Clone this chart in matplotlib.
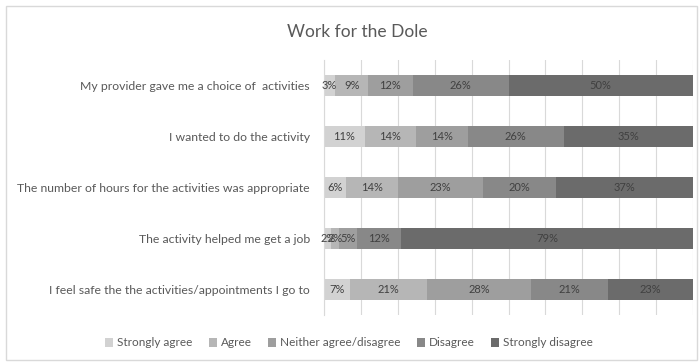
import matplotlib
matplotlib.use("Agg")
import matplotlib.pyplot as plt
from matplotlib.patches import Rectangle
import numpy as np

plt.rcParams["font.family"] = ["Lato", "DejaVu Sans"]

title = "Work for the Dole"
questions = [
    "My provider gave me a choice of  activities",
    "I wanted to do the activity",
    "The number of hours for the activities was appropriate",
    "The activity helped me get a job",
    "I feel safe the the activities/appointments I go to",
]
responses = ["Strongly agree", "Agree", "Neither agree/disagree", "Disagree", "Strongly disagree"]
strongly_agree = [3, 11, 6, 2, 7]
agree = [9, 14, 14, 2, 21]
neither = [12, 14, 23, 5, 28]
disagree = [26, 26, 20, 12, 21]
strongly_disagree = [50, 35, 37, 79, 23]

series = [strongly_agree, agree, neither, disagree, strongly_disagree]
colors = ["#d2d2d2", "#b6b6b6", "#9e9e9e", "#888888", "#6b6b6b"]
text_gray = "#595959"

fig = plt.figure(figsize=(6.99, 3.63), dpi=100)
fig.patches.append(Rectangle((6 / 699, 3 / 363), 691 / 699, 354 / 363, transform=fig.transFigure,
                             fill=False, edgecolor="#d9d9d9", linewidth=1.0))
ax = fig.add_axes([324 / 699, 48 / 363, 369 / 699, 255 / 363])

y = np.arange(len(questions))
left = np.zeros(len(questions))
for vals, col, name in zip(series, colors, responses):
    vals = np.array(vals, dtype=float)
    bars = ax.barh(y, vals, left=left, height=0.4, color=col, label=name, zorder=2)
    for b, v in zip(bars, vals):
        ax.text(b.get_x() + b.get_width() / 2, b.get_y() + b.get_height() / 2, f"{int(v)}%",
                ha="center", va="center", fontsize=8, color="#404040", zorder=3)
    left += vals

ax.set_xlim(0, 100)
ax.set_ylim(len(questions) - 0.5, -0.5)
ax.set_xticks(np.arange(0, 101, 10))
ax.set_xticklabels([])
ax.tick_params(axis="x", length=0)
ax.tick_params(axis="y", length=0, pad=10, labelsize=8.8, labelcolor=text_gray)
ax.set_yticks(y)
ax.set_yticklabels(questions)
ax.grid(axis="x", color="#d9d9d9", linewidth=0.8, zorder=0)
for s in ["top", "right", "bottom"]:
    ax.spines[s].set_visible(False)
ax.spines["left"].set_color("#d9d9d9")

fig.text(357 / 699, 1 - 32 / 363, title, ha="center", va="center", fontsize=12.5, color=text_gray)

handles, labels = ax.get_legend_handles_labels()
fig.legend(handles, labels, loc="center", bbox_to_anchor=(349 / 699, 1 - 343 / 363), ncol=5,
           frameon=False, fontsize=8.5, labelcolor=text_gray, handlelength=0.7, handleheight=0.7,
           handletextpad=0.3, columnspacing=1.4)

fig.savefig("out.png", dpi=100)
